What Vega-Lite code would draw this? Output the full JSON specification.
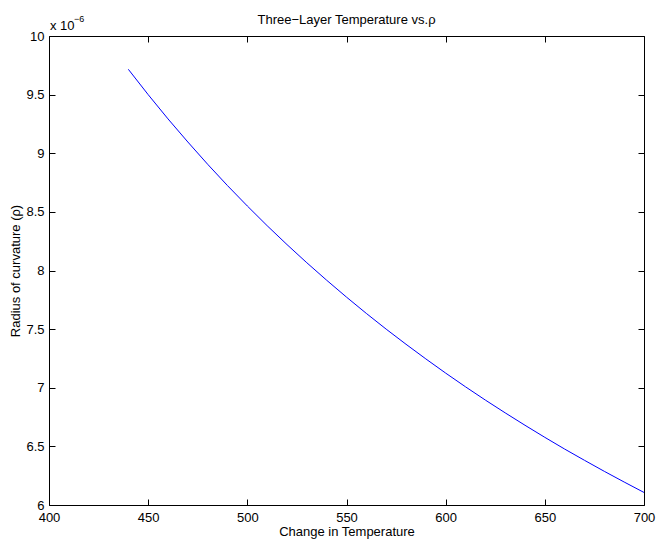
{
  "$schema": "https://vega.github.io/schema/vega-lite/v6.json",
  "width": 595,
  "height": 469,
  "autosize": {"type": "none"},
  "padding": {"left": 49, "top": 36, "right": 13, "bottom": 34},
  "background": "white",
  "title": {
    "text": "Three−Layer Temperature vs.ρ",
    "font": "Liberation Sans",
    "fontSize": 13,
    "fontWeight": "normal",
    "color": "black",
    "anchor": "middle",
    "frame": "group",
    "baseline": "alphabetic",
    "offset": 12.5,
    "dy": 34
  },
  "data": {
    "values": [
      {"dT": 440, "rho": 9.716},
      {"dT": 450, "rho": 9.500},
      {"dT": 460, "rho": 9.293},
      {"dT": 470, "rho": 9.096},
      {"dT": 480, "rho": 8.906},
      {"dT": 490, "rho": 8.724},
      {"dT": 500, "rho": 8.550},
      {"dT": 510, "rho": 8.382},
      {"dT": 520, "rho": 8.221},
      {"dT": 530, "rho": 8.066},
      {"dT": 540, "rho": 7.917},
      {"dT": 550, "rho": 7.773},
      {"dT": 560, "rho": 7.634},
      {"dT": 570, "rho": 7.500},
      {"dT": 580, "rho": 7.371},
      {"dT": 590, "rho": 7.246},
      {"dT": 600, "rho": 7.125},
      {"dT": 610, "rho": 7.008},
      {"dT": 620, "rho": 6.895},
      {"dT": 630, "rho": 6.786},
      {"dT": 640, "rho": 6.680},
      {"dT": 650, "rho": 6.577},
      {"dT": 660, "rho": 6.477},
      {"dT": 670, "rho": 6.381},
      {"dT": 680, "rho": 6.287},
      {"dT": 690, "rho": 6.196},
      {"dT": 700, "rho": 6.107}
    ]
  },
  "layer": [
    {
      "mark": {"type": "line", "color": "#0000ff", "strokeWidth": 1},
      "encoding": {
        "x": {
          "field": "dT", "type": "quantitative",
          "scale": {"domain": [400, 700], "nice": false, "zero": false},
          "axis": {"orient": "bottom", "values": [400, 450, 500, 550, 600, 650, 700], "title": "Change in Temperature", "labelPadding": 6, "titlePadding": 1}
        },
        "y": {
          "field": "rho", "type": "quantitative",
          "scale": {"domain": [6, 10], "nice": false, "zero": false},
          "axis": {"orient": "left", "values": [6, 6.5, 7, 7.5, 8, 8.5, 9, 9.5, 10], "format": "~g", "title": "Radius of curvature (ρ)", "labelPadding": 5, "titlePadding": 3}
        }
      }
    },
    {
      "mark": {"type": "line", "opacity": 0},
      "encoding": {
        "x": {
          "field": "dT", "type": "quantitative",
          "scale": {"domain": [400, 700], "nice": false, "zero": false},
          "axis": {"orient": "top", "values": [400, 450, 500, 550, 600, 650, 700], "labels": false, "title": null}
        },
        "y": {
          "field": "rho", "type": "quantitative",
          "scale": {"domain": [6, 10], "nice": false, "zero": false},
          "axis": {"orient": "right", "values": [6, 6.5, 7, 7.5, 8, 8.5, 9, 9.5, 10], "labels": false, "title": null}
        }
      }
    },
    {
      "data": {"values": [{"label": "x 10"}]},
      "mark": {"type": "text", "font": "Liberation Sans", "fontSize": 13, "color": "black", "align": "left", "baseline": "alphabetic", "dx": 1, "dy": -6.5},
      "encoding": {
        "text": {"field": "label"},
        "x": {"datum": 400, "type": "quantitative", "axis": null},
        "y": {"datum": 10, "type": "quantitative", "axis": null}
      }
    },
    {
      "data": {"values": [{"label": "−6"}]},
      "mark": {"type": "text", "font": "Liberation Sans", "fontSize": 9, "color": "black", "align": "left", "baseline": "alphabetic", "dx": 25, "dy": -14},
      "encoding": {
        "text": {"field": "label"},
        "x": {"datum": 400, "type": "quantitative", "axis": null},
        "y": {"datum": 10, "type": "quantitative", "axis": null}
      }
    }
  ],
  "resolve": {"axis": {"x": "independent", "y": "independent"}},
  "config": {
    "view": {"stroke": "black", "strokeWidth": 1},
    "axis": {
      "grid": false,
      "domain": false,
      "ticks": true,
      "zindex": 1,
      "offset": -6,
      "tickSize": 6,
      "tickColor": "black",
      "tickOpacity": 1,
      "tickWidth": 1,
      "labelFont": "Liberation Sans",
      "labelFontSize": 13,
      "labelColor": "black",
      "labelFlush": false,
      "labelOverlap": false,
      "titleFont": "Liberation Sans",
      "titleFontSize": 13,
      "titleFontWeight": "normal",
      "titleColor": "black"
    }
  }
}
